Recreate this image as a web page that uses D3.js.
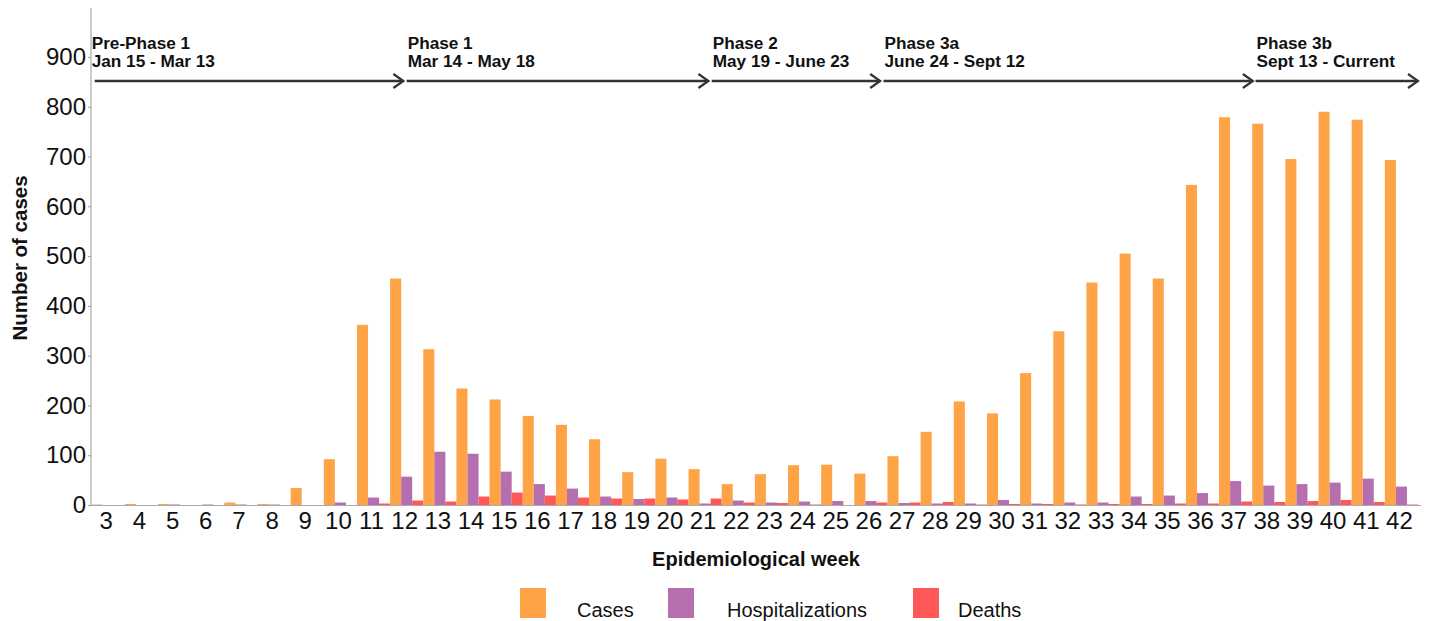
<!DOCTYPE html>
<html>
<head>
<meta charset="utf-8">
<script src="https://cdn.jsdelivr.net/npm/d3@7"></script>
<style>
  html, body { margin: 0; padding: 0; background: #fff; }
  svg { display: block; font-family: "Liberation Sans", Arial, sans-serif; }
</style>
</head>
<body>
<svg id="chart" width="1429" height="621"></svg>
<script>
// ---- data ----
const weeks = [3,4,5,6,7,8,9,10,11,12,13,14,15,16,17,18,19,20,21,22,23,24,25,26,27,28,29,30,31,32,33,34,35,36,37,38,39,40,41,42];
const cases = [1,2,2,0,5,2,34,92,362,455,313,234,212,179,161,132,66,93,72,42,62,80,81,63,98,147,208,184,265,349,447,505,455,643,779,766,695,790,774,693];
const hospitalizations = [0,0,1,1,1,1,0,5,15,57,107,103,67,42,33,17,12,15,3,9,5,7,8,8,4,3,3,10,3,5,5,17,19,24,48,39,42,45,53,37];
const deaths = [0,0,0,0,0,0,0,0,3,9,7,17,25,19,15,13,13,11,13,5,4,1,0,5,5,6,1,2,2,1,2,2,3,3,7,6,8,10,6,1];
const seriesNames = ["Cases","Hospitalizations","Deaths"];
const seriesColors = ["#FFA347","#B56FAF","#FF5858"];
const yTicks = [0,100,200,300,400,500,600,700,800,900];
const phaseTitles = ["Pre-Phase 1","Phase 1","Phase 2","Phase 3a","Phase 3b"];
const phaseDates = ["Jan 15 - Mar 13","Mar 14 - May 18","May 19 - June 23","June 24 - Sept 12","Sept 13 - Current"];
const phaseStart = [2.5, 12.0, 21.2, 26.38, 37.6];   // in epidemiological-week units
const phaseEnd   = [11.9, 21.1, 26.28, 37.52, 42.5];

// ---- layout ----
const svg = d3.select("#chart");
const mLeft = 91.7, mRight = 1418, mTop = 57, mBottom = 505;

const x = d3.scaleBand().domain(weeks).range([mLeft, mRight]).paddingInner(0).paddingOuter(0);
const xs = d3.scaleBand().domain(seriesNames).range([0, x.bandwidth()]).padding(0);
const xLin = d3.scaleLinear().domain([weeks[0] - 0.5, weeks[weeks.length - 1] + 0.5]).range([mLeft, mRight]);
const y = d3.scaleLinear().domain([0, 900]).range([mBottom, mTop]);
const color = d3.scaleOrdinal().domain(seriesNames).range(seriesColors);

const table = weeks.map((w, i) => ({week: w, values: [
  {key: "Cases", v: cases[i]},
  {key: "Hospitalizations", v: hospitalizations[i]},
  {key: "Deaths", v: deaths[i]}
]}));

// bars
const g = svg.append("g");
g.selectAll("g.wk").data(table).join("g")
  .attr("class", "wk")
  .attr("transform", d => `translate(${x(d.week)},0)`)
  .selectAll("rect").data(d => d.values).join("rect")
  .attr("x", d => xs(d.key))
  .attr("width", xs.bandwidth())
  .attr("y", d => y(d.v))
  .attr("height", d => mBottom - y(d.v))
  .attr("fill", d => color(d.key));

// y axis
const yAxis = svg.append("g").attr("transform", `translate(${mLeft - 0.7},0)`)
  .call(d3.axisLeft(y).tickValues(yTicks).tickSize(3).tickPadding(2).tickFormat(d3.format("d")));
yAxis.select(".domain").remove();
yAxis.selectAll(".tick line").attr("stroke", "#999");
yAxis.selectAll(".tick text").attr("font-size", 24).attr("fill", "#111").attr("font-family", "Liberation Sans, Arial, sans-serif");
svg.append("line").attr("x1", mLeft - 0.7).attr("x2", mLeft - 0.7).attr("y1", 8).attr("y2", mBottom + 0.5)
  .attr("stroke", "#aaa").attr("stroke-width", 1.2);

// x axis
const xAxis = svg.append("g").attr("transform", `translate(-2,${mBottom})`)
  .call(d3.axisBottom(x).tickSize(0).tickPadding(7));
xAxis.select(".domain").remove();
xAxis.selectAll(".tick text").attr("font-size", 24).attr("fill", "#111").attr("font-family", "Liberation Sans, Arial, sans-serif");
svg.append("line").attr("x1", mLeft - 0.7).attr("x2", mRight + 3).attr("y1", mBottom + 0.5).attr("y2", mBottom + 0.5)
  .attr("stroke", "#aaa").attr("stroke-width", 1.2);

// axis titles
svg.append("text").attr("transform", `translate(27,258) rotate(-90)`)
  .attr("text-anchor", "middle").attr("font-size", 20.5).attr("font-weight", "bold").attr("fill", "#111")
  .text("Number of cases");
svg.append("text").attr("x", 756).attr("y", 566)
  .attr("text-anchor", "middle").attr("font-size", 20).attr("font-weight", "bold").attr("fill", "#111")
  .text("Epidemiological week");

// phase annotations
const arrowY = 81;
const ph = svg.append("g");
phaseTitles.forEach((t, i) => {
  const x0 = xLin(phaseStart[i]), x1 = xLin(phaseEnd[i]);
  ph.append("text").attr("x", x0 + (i === 0 ? 0 : 1)).attr("y", 49).attr("font-size", 17.2).attr("font-weight", "bold").attr("fill", "#111").text(t);
  ph.append("text").attr("x", x0 + (i === 0 ? 0 : 1)).attr("y", 66.5).attr("font-size", 17.2).attr("font-weight", "bold").attr("fill", "#111").text(phaseDates[i]);
  ph.append("line").attr("x1", x0 + (i === 0 ? 3 : 0)).attr("x2", x1).attr("y1", arrowY).attr("y2", arrowY)
    .attr("stroke", "#333").attr("stroke-width", 2.4);
  ph.append("path").attr("d", `M${x1 - 10},${arrowY - 7}L${x1},${arrowY}L${x1 - 10},${arrowY + 7}`)
    .attr("fill", "none").attr("stroke", "#333").attr("stroke-width", 2.2);
});

// legend
const legendSquareX = [520, 668, 913];
const legendTextX = [577, 727, 958];
const lg = svg.append("g");
seriesNames.forEach((s, i) => {
  lg.append("rect").attr("x", legendSquareX[i]).attr("y", 588).attr("width", 26).attr("height", 30).attr("fill", color(s));
  lg.append("text").attr("x", legendTextX[i]).attr("y", 617).attr("font-size", 20).attr("fill", "#111").text(s);
});
</script>
</body>
</html>
